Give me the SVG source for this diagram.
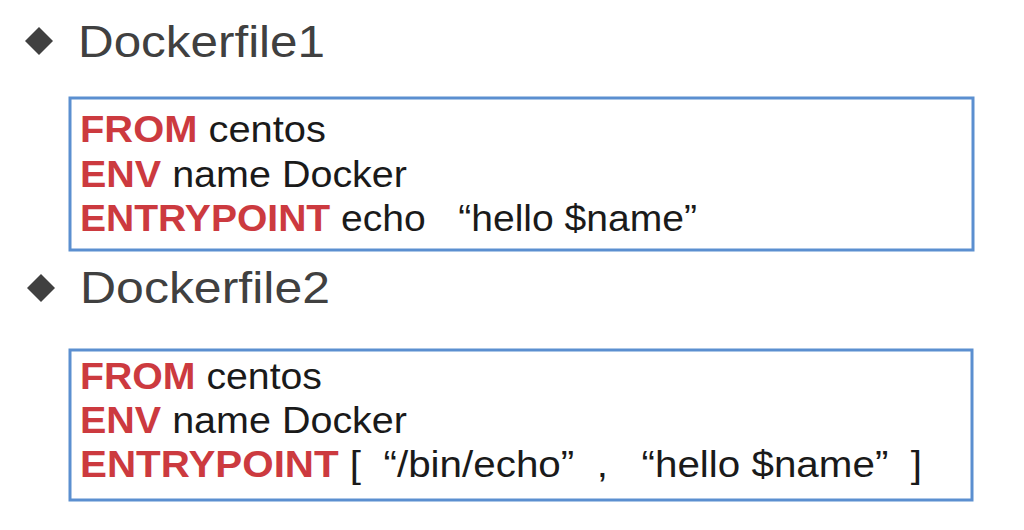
<svg xmlns="http://www.w3.org/2000/svg" width="1024" height="530" viewBox="0 0 1024 530" xml:space="preserve">
<style>
text{white-space:pre}
.h{font-family:"Liberation Sans","Noto Sans",sans-serif;font-size:45px;fill:#404040}
.c{font-family:"Liberation Sans","Noto Sans",sans-serif;font-size:36px;fill:#1a1a1a}
.k{font-weight:bold;fill:#cc3a3f}
.box{fill:#fff;stroke:#5b8fd0;stroke-width:3}
.d{fill:#404040}
</style>
<rect width="1024" height="530" fill="#fff"/>
<g id="title1"><polygon class="d" points="39,27 53,41 39,55 25,41"/><text class="h" x="78" y="57" textLength="247" lengthAdjust="spacingAndGlyphs">Dockerfile1</text></g>
<g id="box1"><rect class="box" x="70" y="98" width="903" height="152"/>
<text class="c" x="80" y="142" textLength="246" lengthAdjust="spacingAndGlyphs"><tspan class="k">FROM</tspan> centos</text>
<text class="c" x="80" y="187" textLength="327" lengthAdjust="spacingAndGlyphs"><tspan class="k">ENV</tspan> name Docker</text>
<text class="c" x="80" y="231" textLength="617" lengthAdjust="spacingAndGlyphs"><tspan class="k">ENTRYPOINT</tspan> echo   “hello $name”</text></g>
<g id="title2"><polygon class="d" points="41,274 55,288 41,302 27,288"/><text class="h" x="80" y="303" textLength="250" lengthAdjust="spacingAndGlyphs">Dockerfile2</text></g>
<g id="box2"><rect class="box" x="70" y="350" width="902" height="150"/>
<text class="c" x="80" y="389" textLength="242" lengthAdjust="spacingAndGlyphs"><tspan class="k">FROM</tspan> centos</text>
<text class="c" x="80" y="433" textLength="327" lengthAdjust="spacingAndGlyphs"><tspan class="k">ENV</tspan> name Docker</text>
<text class="c" x="80" y="477" textLength="842" lengthAdjust="spacingAndGlyphs"><tspan class="k">ENTRYPOINT</tspan> [  “/bin/echo”  ,   “hello $name”  ]</text></g>
<g id="connectors"/>
</svg>
